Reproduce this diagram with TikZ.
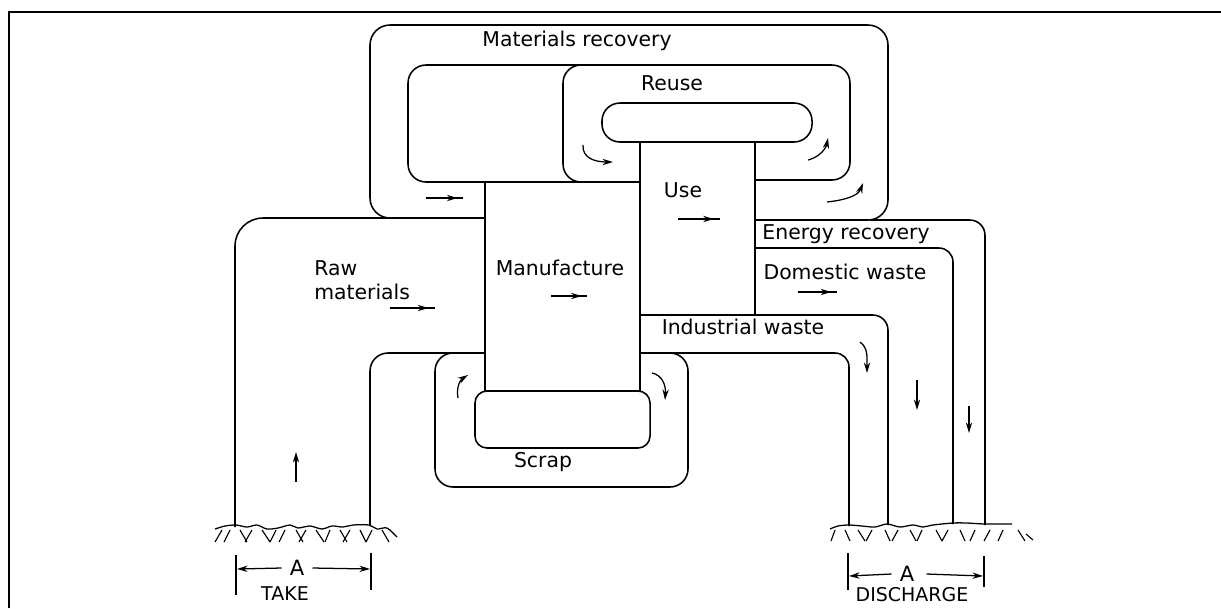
\documentclass[tikz,border=0pt]{standalone}
\usepackage{fontspec}
\setmainfont{DejaVu Sans}
\usetikzlibrary{arrows.meta,decorations.markings}
\tikzset{
  wall/.style={line width=1.1pt, line join=round},
  boxnode/.style={draw, wall, rectangle, inner sep=0pt},
  lbl/.style={font=\fontsize{14.5}{17}\selectfont, inner sep=0pt},
  caps/.style={font=\fontsize{13.5}{15}\selectfont, inner sep=0pt},
  bigcaps/.style={font=\fontsize{15}{17}\selectfont, inner sep=0pt},
  tipline/.style={-{Stealth[length=7.5pt,width=4.5pt]}, line width=0.9pt},
  midtip/.style={line width=0.9pt, decoration={markings, mark=at position 0.85 with {\arrow{Stealth[length=7.5pt,width=4.5pt]}}}, postaction={decorate}},
  hatchline/.style={line width=0.8pt},
}
\begin{document}
\begin{tikzpicture}[x=0.025cm,y=-0.025cm]
\useasboundingbox (0,0) rectangle (1221,608);
% frame
\draw[line width=1.5pt] (9,608) -- (9,12) -- (1221,12);

% main boxes
\node[boxnode, minimum width=3.875cm, minimum height=5.225cm] (mfg) at (562.5,286.5) {};
\node[boxnode, minimum width=2.875cm, minimum height=4.325cm] (use) at (697.5,228.5) {};
\node[boxnode, rounded corners=0.45cm, minimum width=5.25cm, minimum height=0.975cm] (reusepill) at (707,122.5) {};
\node[boxnode, rounded corners=0.3cm, minimum width=4.375cm, minimum height=1.425cm] (scrappill) at (562.5,419.5) {};

% materials recovery outer loop
\draw[wall, rounded corners=0.5cm] (485,218) -- (370,218) -- (370,25) -- (888,25) -- (888,220) -- (755,220);
% materials recovery inner loop
\draw[wall, rounded corners=0.45cm] (485,182) -- (408,182) -- (408,65) -- (600,65);
% reuse loop
\draw[wall, rounded corners=0.45cm] (640,182) -- (563,182) -- (563,65) -- (850,65) -- (850,180) -- (755,180);

% raw materials channel
\draw[wall, rounded corners=0.7cm] (485,218) -- (235,218) -- (235,527);
\draw[wall, rounded corners=0.45cm] (485,353) -- (370,353) -- (370,526);

% scrap loop
\draw[wall, rounded corners=0.45cm] (485,353) -- (435,353) -- (435,487) -- (688,487) -- (688,353) -- (640,353);

% energy recovery channel
\draw[wall, rounded corners=0.38cm] (870,220) -- (985,220) -- (985,525);
% domestic waste channel
\draw[wall, rounded corners=0.35cm] (755,248) -- (953,248) -- (953,524);
% industrial waste channel
\draw[wall, rounded corners=0.38cm] (755,315) -- (888,315) -- (888,525);
\draw[wall, rounded corners=0.35cm] (640,353) -- (849,353) -- (849,526);

% labels
\node[lbl] (lmat) at (577,41) {Materials recovery};
\node[lbl] (lreuse) at (672,83) {Reuse};
\node[lbl] (luse) at (683,190) {Use};
\node[lbl] (lmfg) at (560,268) {Manufacture};
\node[lbl, align=left, anchor=west] (lraw) at (314,280) {Raw\\materials};
\node[lbl] (lenergy) at (846,234) {Energy recovery};
\node[lbl] (ldom) at (845,272) {Domestic waste};
\node[lbl] (lind) at (743,327) {Industrial waste};
\node[lbl] (lscrap) at (543,462) {Scrap};

% straight flow arrows
\draw[midtip] (426,198) -- (463,198);
\draw[midtip] (390,308) -- (435,308);
\draw[midtip] (551,296) -- (587,296);
\draw[midtip] (678,219) -- (720,219);
\draw[midtip] (798,292) -- (837,292);
\draw[tipline] (296,482) -- (296,452);
\draw[tipline] (917,380) -- (917,410);
\draw[tipline] (969,406) -- (969,433);
\draw[tipline] (860,342) .. controls (868,348) and (867,356) .. (867,373);

% curved arrows
\draw[tipline] (583,145) .. controls (582,158) and (595,162) .. (613,162);
\draw[tipline] (808,160) .. controls (820,157) and (826,148) .. (828,138);
\draw[tipline] (827,202) .. controls (845,200) and (858,196) .. (863,183);
\draw[tipline] (458,398) .. controls (456,388) and (460,380) .. (468,375);
\draw[tipline] (652,373) .. controls (662,375) and (666,385) .. (665,400);

% ground, take side
\draw[line width=0.9pt] plot[smooth] coordinates {(215,529) (225,526) (236,525) (247,527) (257,525) (267,529) (278,528) (290,525) (298,528) (310,526) (322,529) (332,526) (343,527) (353,525) (369,525) (377,529) (387,528) (397,537)};
\foreach \x/\d in {222/-7, 230/-6, 240/7, 252/-7, 262/8, 276/-6, 285/-6, 296/7, 306/-7, 316/8, 330/-5, 340/7, 350/-7, 360/6, 372/-6, 382/7}
  \draw[hatchline] (\x,530) -- (\x+\d,542);
% ground, discharge side
\draw[line width=0.9pt] plot[smooth] coordinates {(830,529) (838,526) (849,525) (862,526) (875,527) (887,524) (900,527) (913,525) (923,527) (933,525) (953,523) (967,523) (985,524) (1012,524)};
\foreach \x/\d in {835/-4, 845/5, 858/7, 872/-6, 885/5, 898/-6, 910/6, 922/-5, 936/6, 948/-6, 960/5, 975/-5, 990/-6, 1003/-5, 1018/7}
  \draw[hatchline] (\x,530) -- (\x+\d,541);
\draw[hatchline] (1026,534) -- (1033,540);

% dimension, take
\draw[line width=0.9pt] (236,555) -- (236,595);
\draw[line width=0.9pt] (371,553) -- (371,590);
\node[bigcaps] (takeA) at (297,568) {A};
\node[caps] (take) at (285,594) {TAKE};
\draw[tipline] (takeA.west) ++(-8,0) -- (237,569);
\draw[tipline] (takeA.east) ++(8,0) -- (370,569);
% dimension, discharge
\draw[line width=0.9pt] (848,553) -- (848,590);
\draw[line width=0.9pt] (984,556) -- (984,587);
\node[bigcaps] (disA) at (907,574) {A};
\node[caps] (dis) at (912,595) {DISCHARGE};
\draw[tipline] (disA.west) ++(-8,0) -- (849,576);
\draw[tipline] (disA.east) ++(12,0) -- (983,576);
\end{tikzpicture}
\end{document}
